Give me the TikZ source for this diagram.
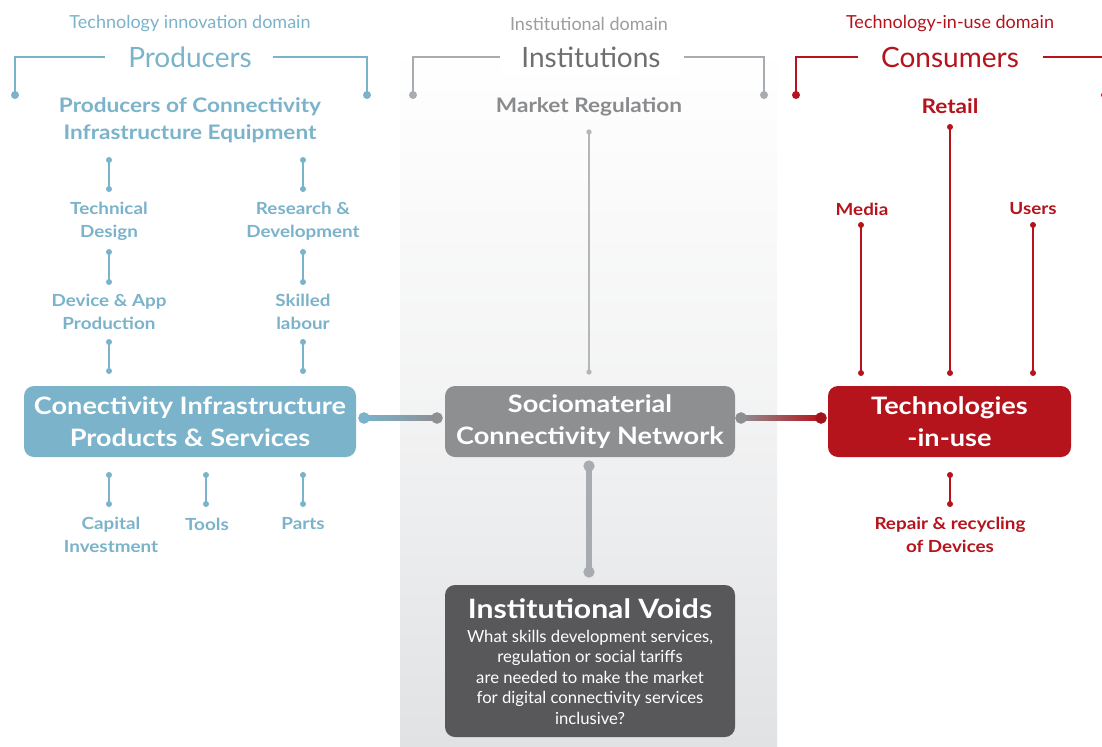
\documentclass[tikz,border=0pt]{standalone}
\usepackage{fontspec}
\setmainfont{Lato}[BoldFeatures={FakeStretch=1.13}]
\usetikzlibrary{calc}
\definecolor{cblue}{HTML}{7AB3CA}
\definecolor{cgray}{HTML}{8E8F91}
\definecolor{cgraytxt}{HTML}{8A8B8D}
\definecolor{chead}{HTML}{9C9D9F}
\definecolor{cred}{HTML}{B5141D}
\definecolor{cdark}{HTML}{58585A}
\definecolor{cline}{HTML}{A8ACB1}
\definecolor{cthin}{HTML}{B4B6B9}
\definecolor{cpanel}{HTML}{E1E2E4}
\tikzset{
  dom/.style={font=\fontsize{13.5}{16}\selectfont},
  head/.style={font=\fontsize{21}{25}\selectfont},
  subt/.style={font=\bfseries\fontsize{15}{20.25}\selectfont, align=center},
  lab/.style={font=\bfseries\fontsize{12.5}{17.25}\selectfont, align=center},
  bigbox/.style={rounded corners=7.5pt, text=white, inner sep=0pt,
    font=\bfseries\fontsize{18}{24}\selectfont, align=center, minimum height=53.25pt},
  sdot/.style={circle, inner sep=0pt, minimum size=4.5pt},
  bdot/.style={circle, inner sep=0pt, minimum size=8.5pt},
  thin/.style={line width=1.1pt},
  brk/.style={line width=1.5pt},
}
\begin{document}
\begin{tikzpicture}[x=0.75pt,y=-0.75pt]
\useasboundingbox (0,0) rectangle (1102,746);
\fill[white] (0,0) rectangle (1102,746);
% middle domain panel
\shade[top color=white, bottom color=cpanel, middle color=white!60!cpanel] (400,45) rectangle (777,746);

% ---------- domain headings ----------
\node[dom, text=cblue] (dProd) at (190,23.5) {Technology innovation domain};
\node[head, text=cblue] (hProd) at (190,57.5) {Producers};
\node[dom, text=chead] (dInst) at (589,23.5) {Institutional domain};
\node[head, text=cgraytxt!80!black, fill=white, minimum width=135pt, minimum height=24pt] (hInst) at (591,57.5) {Institutions};
\node[dom, text=cred] (dCons) at (950,23.5) {Technology-in-use domain};
\node[head, text=cred] (hCons) at (950,57.5) {Consumers};

% brackets
\node[sdot, minimum size=6pt, fill=cblue] (bl1) at (15,95) {};
\node[sdot, minimum size=6pt, fill=cblue] (bl2) at (367,95) {};
\draw[brk, cblue] (bl1.center) -- (15,57) -- (105,57);
\draw[brk, cblue] (273,57) -- (367,57) -- (bl2.center);
\node[sdot, minimum size=6pt, fill=cline] (bm1) at (413,95) {};
\node[sdot, minimum size=6pt, fill=cline] (bm2) at (764,95) {};
\draw[brk, cline] (bm1.center) -- (413,57) -- (500,57);
\draw[brk, cline] (684,57) -- (764,57) -- (bm2.center);
\node[sdot, minimum size=6pt, fill=cred] (br1) at (796,95) {};
\node[sdot, minimum size=6pt, fill=cred] (br2) at (1105,95) {};
\draw[brk, cred] (br1.center) -- (796,57) -- (858,57);
\draw[brk, cred] (1043,57) -- (1105,57) -- (br2.center);

% ---------- producers ----------
\node[subt, text=cblue] (pce) at (190,120.5) {Producers of Connectivity\\Infrastructure Equipment};
\node[lab, text=cblue] (td) at (109,221.5) {Technical\\Design};
\node[lab, text=cblue] (rd) at (303,221.5) {Research \&\\Development};
\node[lab, text=cblue] (dap) at (109,312) {Device \& App\\Production};
\node[lab, text=cblue] (sl) at (303,312) {Skilled\\labour};
\node[lab, text=cblue] (ci) at (111,535) {Capital\\Investment};
\node[lab, text=cblue] (tl) at (207,524) {Tools};
\node[lab, text=cblue] (pt) at (303,524) {Parts};

\foreach \n/\x/\ya/\yb in {a1/109/160/189, a2/303/160/189, a3/109/252/282, a4/303/252/282,
  a5/109/342/371, a6/303/342/371, a7/109/475/504, a8/206/475/504, a9/303/475/504}{
  \node[sdot, fill=cblue] (\n s) at (\x,\ya) {};
  \node[sdot, fill=cblue] (\n e) at (\x,\yb) {};
  \draw[thin, cblue] (\n s.center) -- (\n e.center);
}

\node[bigbox, fill=cblue, minimum width=249pt] (cips) at (190,421.5) {Conectivity Infrastructure\\Products \& Services};

% ---------- institutions ----------
\node[subt, text=cgraytxt] (mr) at (589,106.5) {Market Regulation};
\node[sdot, minimum size=4pt, fill=cthin] (mrs) at (589,132) {};
\node[sdot, minimum size=4pt, fill=cthin] (mre) at (589,372) {};
\draw[line width=1pt, cthin] (mrs.center) -- (mre.center);

\node[bigbox, fill=cgray, minimum width=217.5pt] (scn) at (590,421.5) {Sociomaterial\\Connectivity Network};

\node[rounded corners=7.5pt, fill=cdark, minimum width=217.5pt, minimum height=114pt, inner sep=0pt] (iv) at (590,661) {};
\node[text=white, font=\bfseries\fontsize{20}{24}\selectfont] (ivt) at (590,609) {Institutional Voids};
\node[text=white, font=\fontsize{12.5}{15.4}\selectfont, align=center] (ivb) at (590,677) {What skills development services,\\regulation or social tariffs\\are needed to make the market\\for digital connectivity services\\inclusive?};

% ---------- consumers ----------
\node[subt, text=cred] (rt) at (950,106) {Retail};
\node[lab, text=cred] (md) at (862,209) {Media};
\node[lab, text=cred] (us) at (1033,209) {Users};
\node[lab, text=cred] (rr) at (950,535) {Repair \& recycling\\of Devices};
\foreach \n/\x/\ya/\yb in {r1/950/127/373, r2/861/225/373, r3/1033/225/373, r4/950/475/504}{
  \node[sdot, fill=cred] (\n s) at (\x,\ya) {};
  \node[sdot, fill=cred] (\n e) at (\x,\yb) {};
  \draw[thin, cred] (\n s.center) -- (\n e.center);
}

\node[bigbox, fill=cred, minimum width=182.25pt] (tiu) at (949.5,421.5) {Technologies\\-in-use};

% ---------- main links ----------
\node[bdot, fill=cblue] (l1) at (364,418) {};
\node[bdot, fill=cgray] (l2) at (437,418) {};
\shade[left color=cblue, right color=cgray] ($(l1.center)+(0,-2.4)$) rectangle ($(l2.center)+(0,2.4)$);
\node[bdot, fill=cblue] at (l1) {};
\node[bdot, fill=cgray] at (l2) {};

\node[bdot, fill=cgray] (l3) at (741,418) {};
\node[bdot, fill=cred!90!black] (l4) at (821,418) {};
\shade[left color=cgray, right color=cred] ($(l3.center)+(0,-2.4)$) rectangle ($(l4.center)+(0,2.4)$);
\node[bdot, fill=cgray] at (l3) {};
\node[bdot, fill=cred!90!black] at (l4) {};

\node[bdot, fill=cline] (v1) at (589,466) {};
\node[bdot, fill=cline] (v2) at (589,572) {};
\draw[line width=4.5pt, cline] (v1.center) -- (v2.center);
\end{tikzpicture}
\end{document}
